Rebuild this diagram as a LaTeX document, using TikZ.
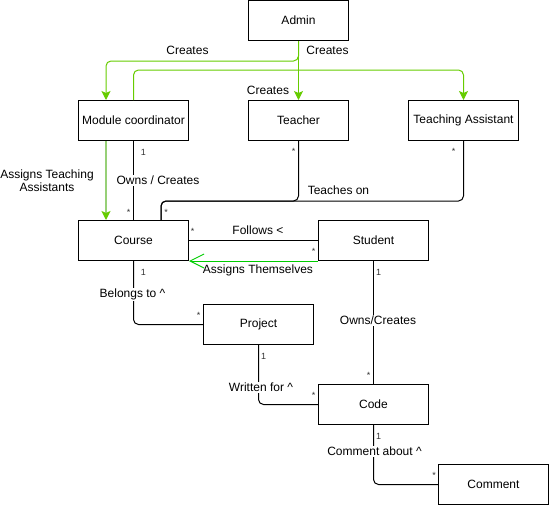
\documentclass[tikz,border=0pt]{standalone}
\usepackage{fontspec}
\setmainfont{Liberation Sans}
\usetikzlibrary{arrows.meta,calc}
\definecolor{creategreen}{HTML}{66CC00}
\definecolor{assigngreen}{HTML}{97D077}
\definecolor{selfgreen}{HTML}{00CC00}
\definecolor{multgrey}{HTML}{333333}

\begin{document}
\begin{tikzpicture}[x=1pt,y=-1pt,
    entity/.style={draw,line width=1pt,minimum width=110pt,minimum height=40pt,inner sep=0pt,font=\fontsize{12}{14}\selectfont},
    rel/.style={draw,line width=1pt,rounded corners=5pt},
    creates/.style={draw=creategreen,line width=1pt,rounded corners=5pt,-{Stealth[length=9pt,width=9pt,inset=2pt]}},
    assigns/.style={draw=assigngreen,line width=1.2pt,-{Stealth[length=9pt,width=9pt,inset=2pt,color=creategreen]}},
    selfassign/.style={draw=selfgreen,line width=1pt,-{Straight Barb[length=14pt,width=14pt]}},
    lbl/.style={fill=white,inner sep=1pt,font=\fontsize{12}{14}\selectfont},
    mult/.style={inner sep=0pt,text=multgrey,font=\fontsize{9}{10}\selectfont}]
    \useasboundingbox (0,0) rectangle (549,506);

    % classes
    \node[entity,minimum width=100pt] (admin) at (298.5,20.5) {Admin};
    \node[entity] (modc) at (133.5,120.5) {Module coordinator};
    \node[entity,minimum width=100pt] (teacher) at (298.5,120.5) {Teacher};
    \node[entity] (ta) at (463.5,120.5) {Teaching Assistant};
    \node[entity] (course) at (133.5,240.5) {Course};
    \node[entity] (student) at (373.5,240.5) {Student};
    \node[entity] (project) at (258.5,324.5) {Project};
    \node[entity] (code) at (373.5,404.5) {Code};
    \node[entity] (comment) at (493.5,484.5) {Comment};

    \coordinate (modcL) at ($(modc.north)+(-27.5,0)$);
    \coordinate (modcB) at ($(modc.south)+(-27.5,0)$);
    \coordinate (courseL) at ($(course.north)+(-27.5,0)$);
    \coordinate (courseT) at ($(course.north)+(27.5,0)$);

    % associations
    \draw[rel] (modc) -- (course);
    \draw[rel] (teacher.south) -- ++(0,60) -| (courseT);
    \draw[rel] (ta.south) -- ++(0,60) -| (courseT);
    \draw[rel] (course.east) -- (student.west);
    \draw[rel] (course.south) |- (project.west);
    \draw[rel] (student) -- (code);
    \draw[rel] (project.south) |- (code.west);
    \draw[rel] (code.south) |- (comment.west);

    % green arrows
    \draw[creates] (admin.south) -- ++(0,20) -| (modcL);
    \draw[creates] (admin) -- (teacher);
    \draw[creates] (modc.north) -- ++(0,-30) -| (ta.north);
    \draw[assigns] (modcB) -- (courseL);
    \draw[selfassign] (student.south west) -- (course.south east);

    % labels
    \node[lbl] (crModc) at (187.5,50.5) {Creates};
    \node[lbl] (crTa) at (327.5,50.5) {Creates};
    \node[lbl] (crTeacher) at (268,90.5) {Creates};
    \node[lbl,align=center,font=\fontsize{12}{13.5}\selectfont] (assignTa) at (47,180.5) {Assigns Teaching\\Assistants};
    \node[lbl] (ownsCourse) at (158,180.5) {Owns / Creates};
    \node[lbl] (teaches) at (338.5,190.5) {Teaches on};
    \node[lbl] (follows) at (258,230.5) {Follows <};
    \node[lbl,fill=none] (selfLbl) at (258,270.5) {Assigns Themselves};
    \node[lbl] (belongs) at (132.5,294.5) {Belongs to \textasciicircum};
    \node[lbl] (ownsCode) at (378,320.5) {Owns/Creates};
    \node[lbl] (written) at (261,387.5) {Written for \textasciicircum};
    \node[lbl] (about) at (374.5,451.5) {Comment about \textasciicircum};

    % multiplicities
    \node[mult] (m1) at (143.5,152) {1};
    \node[mult] (m2) at (128.5,212) {*};
    \node[mult] (m3) at (293.5,151) {*};
    \node[mult] (m4) at (453.5,151) {*};
    \node[mult] (m5) at (166,212) {*};
    \node[mult] (m6) at (192.5,231) {*};
    \node[mult] (m7) at (313.5,251) {*};
    \node[mult] (m8) at (143.5,272) {1};
    \node[mult] (m9) at (378.5,272) {1};
    \node[mult] (m10) at (198.5,315) {*};
    \node[mult] (m11) at (263.5,356) {1};
    \node[mult] (m12) at (368.5,375) {*};
    \node[mult] (m13) at (313.5,395) {*};
    \node[mult] (m14) at (378.5,436) {1};
    \node[mult] (m15) at (434,475) {*};
\end{tikzpicture}
\end{document}
